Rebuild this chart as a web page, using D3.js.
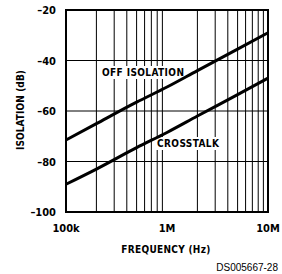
<!DOCTYPE html>
<html>
<head>
<meta charset="utf-8">
<script src="https://cdnjs.cloudflare.com/ajax/libs/d3/7.8.5/d3.min.js"></script>
<style>
	body { margin: 0; background: #fff; }
	.lbl { font-family: "Liberation Sans Narrow", "DejaVu Sans Condensed", sans-serif; font-weight: bold; fill: #000; }
</style>
</head>
<body>
<div id="chart"></div>
<script>
// frequency (Hz) vs isolation (dB)
var freqs = [1e5, 2e5, 5e5, 1e6, 2e6, 5e6, 1e7];
var offIsolation = [-71.5, -65, -56.5, -50.5, -44, -35.5, -29];
var crosstalk = [-89, -83, -74.5, -68.5, -62, -53.5, -47];
var yTicks = [-20, -40, -60, -80, -100];
var xTicks = [1e5, 1e6, 1e7];
var xTickLabels = ["100k", "1M", "10M"];

var width = 282, height = 274;
var svg = d3.select("#chart").append("svg")
	.attr("width", width)
	.attr("height", height);

var x = d3.scaleLog().domain([1e5, 1e7]).range([66, 268]);
var y = d3.scaleLinear().domain([-100, -20]).range([212, 10]);

// grid
var minor = [];
[1e5, 1e6].forEach(function(dec){
	for (var i = 2; i <= 9; i++) minor.push(dec * i);
});
svg.append("g").selectAll("line").data(minor).enter().append("line")
	.attr("x1", function(d){ return x(d); })
	.attr("x2", function(d){ return x(d); })
	.attr("y1", y(-20)).attr("y2", y(-100))
	.attr("stroke", "#000").attr("stroke-width", 1);
svg.append("g").selectAll("line").data(yTicks).enter().append("line")
	.attr("x1", x(1e5)).attr("x2", x(1e7))
	.attr("y1", function(d){ return y(d); })
	.attr("y2", function(d){ return y(d); })
	.attr("stroke", "#000").attr("stroke-width", 1);

// white patches behind curve labels go under the curves
var bg = svg.append("g");

// frame
svg.append("rect")
	.attr("x", x(1e5)).attr("y", y(-20))
	.attr("width", x(1e7) - x(1e5)).attr("height", y(-100) - y(-20))
	.attr("fill", "none").attr("stroke", "#000").attr("stroke-width", 2);

// curves
var line = d3.line()
	.x(function(d){ return x(d[0]); })
	.y(function(d){ return y(d[1]); })
	.curve(d3.curveMonotoneX);
[offIsolation, crosstalk].forEach(function(s){
	svg.append("path")
		.datum(freqs.map(function(f, i){ return [f, s[i]]; }))
		.attr("d", line)
		.attr("fill", "none").attr("stroke", "#000").attr("stroke-width", 3);
});

// tick labels
svg.selectAll(".yt").data(yTicks).enter().append("text")
	.attr("class", "lbl")
	.attr("x", 56).attr("y", function(d){ return y(d) + 4; })
	.attr("text-anchor", "end").attr("font-size", 11)
	.text(function(d){ return "\u2013" + Math.abs(d); });
svg.selectAll(".xt").data(xTicks).enter().append("text")
	.attr("class", "lbl")
	.attr("x", function(d){ return x(d); }).attr("y", 232)
	.attr("text-anchor", "middle").attr("font-size", 11)
	.text(function(d, i){ return xTickLabels[i]; });

// axis titles
svg.append("text").attr("class", "lbl")
	.attr("x", 166).attr("y", 253)
	.attr("text-anchor", "middle").attr("font-size", 10)
	.attr("letter-spacing", 0.3)
	.text("FREQUENCY (Hz)");
svg.append("text").attr("class", "lbl")
	.attr("transform", "translate(24,110) rotate(-90)")
	.attr("text-anchor", "middle").attr("font-size", 10)
	.attr("letter-spacing", 0.1)
	.text("ISOLATION (dB)");

// curve labels
function curveLabel(tx, ty, s) {
	var t = svg.append("text").attr("class", "lbl")
		.attr("x", tx).attr("y", ty).attr("font-size", 10)
		.attr("letter-spacing", 0.4)
		.text(s);
	var b = t.node().getBBox();
	bg.append("rect")
		.attr("x", b.x - 2).attr("y", b.y - 1)
		.attr("width", b.width + 4).attr("height", b.height + 2)
		.attr("fill", "#fff");
}
curveLabel(102, 76, "OFF ISOLATION");
curveLabel(157, 147, "CROSSTALK");

svg.append("text")
	.attr("x", 278).attr("y", 271)
	.attr("text-anchor", "end")
	.attr("font-family", "Liberation Sans, Arial, sans-serif")
	.attr("font-size", 10)
	.text("DS005667-28");
</script>
</body>
</html>
